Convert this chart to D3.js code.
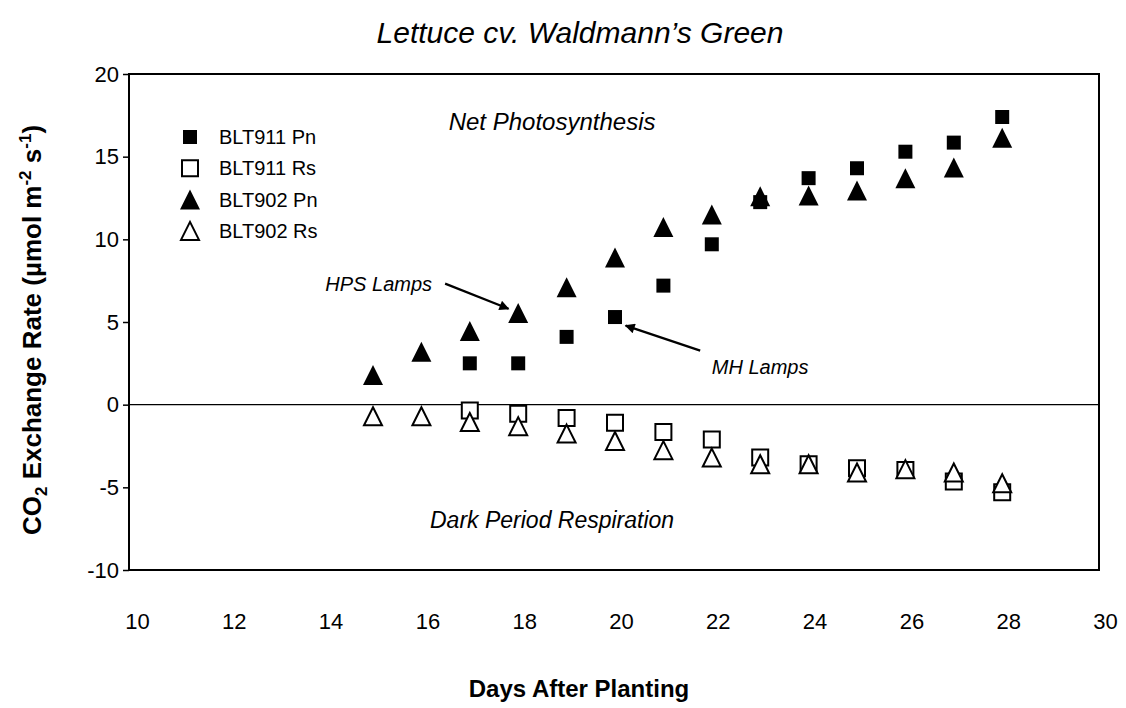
<!DOCTYPE html>
<html>
<head>
<meta charset="utf-8">
<script src="https://cdn.jsdelivr.net/npm/d3@7"></script>
<style>
  body { margin: 0; background: #fff; }
  svg { display: block; font-family: "Liberation Sans", Arial, sans-serif; }
</style>
</head>
<body>
<div class="chartContainer"></div>
<script>
// days after planting
const days911 = [17, 18, 19, 20, 21, 22, 23, 24, 25, 26, 27, 28];
const days902 = [15, 16, 17, 18, 19, 20, 21, 22, 23, 24, 25, 26, 27, 28];

// CO2 exchange rate, umol m-2 s-1
const pn911 = [2.5, 2.5, 4.1, 5.3, 7.2, 9.7, 12.25, 13.7, 14.3, 15.3, 15.85, 17.4];
const rs911 = [-0.35, -0.55, -0.8, -1.1, -1.65, -2.1, -3.2, -3.6, -3.85, -3.95, -4.65, -5.3];
const pn902 = [1.8, 3.2, 4.45, 5.55, 7.1, 8.9, 10.75, 11.5, 12.6, 12.65, 12.95, 13.7, 14.35, 16.15];
const rs902 = [-0.7, -0.7, -1.05, -1.3, -1.75, -2.2, -2.75, -3.2, -3.6, -3.6, -4.1, -3.9, -4.1, -4.75];

const seriesNames = ["BLT911 Pn", "BLT911 Rs", "BLT902 Pn", "BLT902 Rs"];
const xTicks = [10, 12, 14, 16, 18, 20, 22, 24, 26, 28, 30];
const yTicks = [-10, -5, 0, 5, 10, 15, 20];

document.addEventListener("DOMContentLoaded", function () {
  createChart();

  function createChart() {
    const w = 1126;
    const h = 708;
    const left = 129, right = 1099, top = 74, bottom = 570;

    const xScale = d3.scaleLinear().domain([10, 30]).range([131, right]);
    const yScale = d3.scaleLinear().domain([-10, 20]).range([bottom, top]);

    const svg = d3
      .select(".chartContainer")
      .append("svg")
      .attr("width", w)
      .attr("height", h);

    // title
    svg
      .append("text")
      .attr("x", 580)
      .attr("y", 43)
      .attr("text-anchor", "middle")
      .style("font-style", "italic")
      .style("font-size", "30px")
      .text("Lettuce cv. Waldmann\u2019s Green");

    // plot frame
    svg
      .append("rect")
      .attr("x", left)
      .attr("y", top)
      .attr("width", right - left)
      .attr("height", bottom - top)
      .attr("fill", "none")
      .attr("stroke", "#000")
      .attr("stroke-width", 2);

    // zero line
    svg
      .append("line")
      .attr("x1", left)
      .attr("x2", right)
      .attr("y1", yScale(0))
      .attr("y2", yScale(0))
      .attr("stroke", "#000")
      .attr("stroke-width", 1.3);

    const yAxis = d3
      .axisLeft(yScale)
      .tickValues(yTicks)
      .tickFormat((d) => String(d))
      .tickSize(6)
      .tickPadding(4);
    const gy = svg
      .append("g")
      .attr("transform", "translate(" + left + ",0)")
      .call(yAxis);
    gy.select(".domain").remove();
    gy.selectAll("line").attr("stroke-width", 1.5);
    gy.selectAll("text").style("font-size", "22px").attr("fill", "#000");

    const xAxis = d3.axisBottom(xScale).tickValues(xTicks).tickSize(0).tickPadding(43);
    const gx = svg
      .append("g")
      .attr("transform", "translate(0," + bottom + ")")
      .call(xAxis);
    gx.select(".domain").remove();
    gx.selectAll("text").style("font-size", "22px").attr("dx", 6).attr("fill", "#000");

    // axis titles
    svg
      .append("text")
      .attr("x", 579)
      .attr("y", 697)
      .attr("text-anchor", "middle")
      .style("font-weight", "bold")
      .style("font-size", "24px")
      .text("Days After Planting");

    const yt = svg
      .append("text")
      .attr("transform", "translate(41,330) rotate(-90)")
      .attr("text-anchor", "middle")
      .style("font-weight", "bold")
      .style("font-size", "26px");
    yt.append("tspan").text("CO");
    yt.append("tspan").attr("dy", 6).style("font-size", "17px").text("2");
    yt.append("tspan").attr("dy", -6).text(" Exchange Rate (\u00b5mol m");
    yt.append("tspan").attr("dy", -10).style("font-size", "17px").text("-2");
    yt.append("tspan").attr("dy", 10).text(" s");
    yt.append("tspan").attr("dy", -10).style("font-size", "17px").text("-1");
    yt.append("tspan").attr("dy", 10).text(")");

    // marker shapes
    const tri = (s) => "M0," + -s / 2 + "L" + s / 2 + "," + s / 2 + "L" + -s / 2 + "," + s / 2 + "Z";
    const sq = (s) => "M" + -s / 2 + "," + -s / 2 + "h" + s + "v" + s + "h" + -s + "Z";
    const styles = [
      { path: sq(14), fill: "#000", stroke: "none", sw: 0 },
      { path: sq(16), fill: "#fff", stroke: "#000", sw: 2 },
      { path: tri(20), fill: "#000", stroke: "none", sw: 0 },
      { path: tri(18), fill: "#fff", stroke: "#000", sw: 2 }
    ];

    const series = [
      { days: days911, values: pn911 },
      { days: days911, values: rs911 },
      { days: days902, values: pn902 },
      { days: days902, values: rs902 }
    ];

    series.forEach(function (s, k) {
      svg
        .append("g")
        .selectAll("path")
        .data(s.values)
        .enter()
        .append("path")
        .attr("transform", (d, i) => "translate(" + xScale(s.days[i]) + "," + yScale(d) + ")")
        .attr("d", styles[k].path)
        .attr("fill", styles[k].fill)
        .attr("stroke", styles[k].stroke)
        .attr("stroke-width", styles[k].sw);
    });

    // legend
    const legend = svg.append("g").attr("transform", "translate(190,137)");
    seriesNames.forEach(function (name, k) {
      const row = legend.append("g").attr("transform", "translate(0," + k * 31.3 + ")");
      row
        .append("path")
        .attr("d", styles[k].path)
        .attr("fill", styles[k].fill)
        .attr("stroke", styles[k].stroke)
        .attr("stroke-width", styles[k].sw);
      row
        .append("text")
        .attr("x", 29)
        .attr("y", 7)
        .style("font-size", "20px")
        .text(name);
    });

    // region labels
    svg
      .append("text")
      .attr("x", xScale(18.7))
      .attr("y", yScale(16.6))
      .attr("text-anchor", "middle")
      .style("font-style", "italic")
      .style("font-size", "24px")
      .text("Net Photosynthesis");

    svg
      .append("text")
      .attr("x", xScale(18.7))
      .attr("y", yScale(-7.45))
      .attr("text-anchor", "middle")
      .style("font-style", "italic")
      .style("font-size", "23px")
      .text("Dark Period Respiration");

    // lamp annotations
    svg
      .append("defs")
      .append("marker")
      .attr("id", "head")
      .attr("viewBox", "0 0 10 10")
      .attr("refX", 9)
      .attr("refY", 5)
      .attr("markerWidth", 12)
      .attr("markerHeight", 10)
      .attr("markerUnits", "userSpaceOnUse")
      .attr("orient", "auto")
      .append("path")
      .attr("d", "M0,0L10,5L0,10Z")
      .attr("fill", "#000");

    const notes = [
      { text: "HPS Lamps", tx: 16.22, ty: 6.9, anchor: "end", from: [16.49, 7.32], to: [17.8, 5.8] },
      { text: "MH Lamps", tx: 22.0, ty: 1.88, anchor: "start", from: [21.76, 3.27], to: [20.22, 4.78] }
    ];
    notes.forEach(function (n) {
      svg
        .append("text")
        .attr("x", xScale(n.tx))
        .attr("y", yScale(n.ty))
        .attr("text-anchor", n.anchor)
        .style("font-style", "italic")
        .style("font-size", "20px")
        .text(n.text);
      svg
        .append("line")
        .attr("x1", xScale(n.from[0]))
        .attr("y1", yScale(n.from[1]))
        .attr("x2", xScale(n.to[0]))
        .attr("y2", yScale(n.to[1]))
        .attr("stroke", "#000")
        .attr("stroke-width", 2.2)
        .attr("marker-end", "url(#head)");
    });
  }
});
</script>
</body>
</html>
